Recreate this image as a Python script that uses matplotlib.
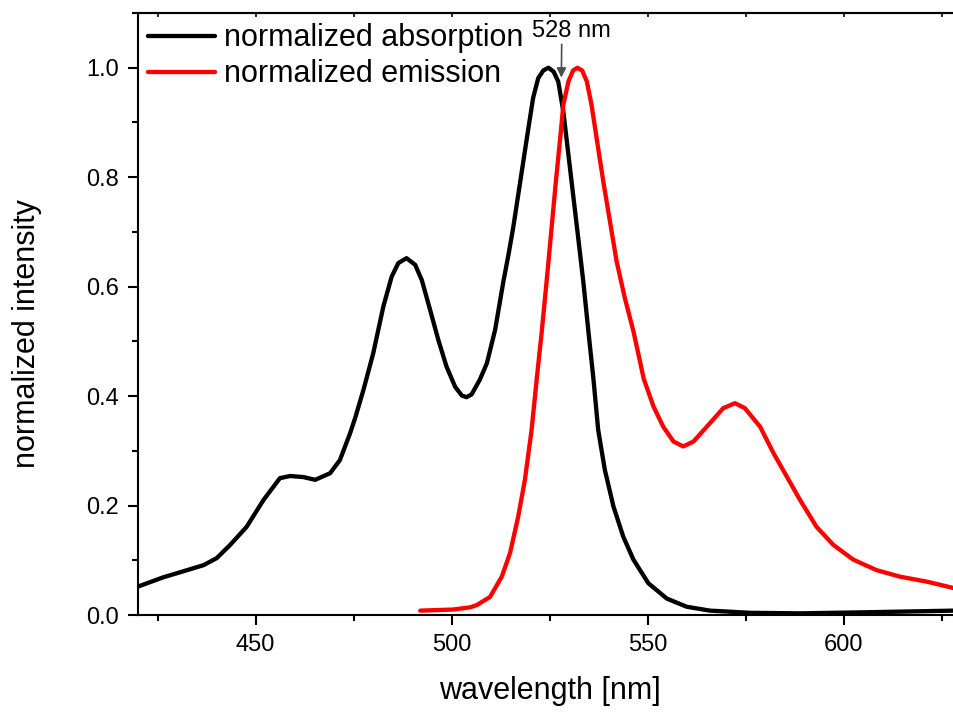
import matplotlib
matplotlib.use('Agg')
import matplotlib.pyplot as plt
from matplotlib.ticker import MultipleLocator, FormatStrFormatter

plt.rcParams['font.family'] = ['Liberation Sans', 'DejaVu Sans']

# absorption spectrum
abs_wl = [420, 426.5, 430.7, 436.7, 440.1, 443.5, 447.7, 452.0, 456.2, 458.8,
          462.2, 465.2, 469.0, 471.5, 474.1, 475.4, 477.5, 480.0, 482.6, 484.7,
          486.4, 488.5, 490.7, 492.4, 494.5, 496.6, 498.7, 500.9, 502.6, 503.8,
          505.1, 507.2, 509.0, 511.1, 513.2, 514.5, 515.7, 517.0, 518.3, 519.6,
          520.8, 522.1, 523.4, 524.7, 526.0, 527.2, 528.5, 529.8, 531.0, 532.3,
          533.6, 534.9, 536.2, 537.4, 539.1, 541.3, 543.8, 546.4, 550.2, 554.9,
          560.0, 565.9, 576.1, 588.9, 605.9, 628.2]
abs_val = [0.052, 0.069, 0.078, 0.091, 0.104, 0.128, 0.161, 0.210, 0.250, 0.254,
           0.252, 0.247, 0.259, 0.283, 0.332, 0.360, 0.411, 0.478, 0.564, 0.618,
           0.643, 0.652, 0.640, 0.612, 0.558, 0.503, 0.454, 0.417, 0.401, 0.398,
           0.403, 0.430, 0.460, 0.521, 0.609, 0.658, 0.707, 0.768, 0.829, 0.890,
           0.945, 0.981, 0.995, 1.000, 0.993, 0.975, 0.920, 0.841, 0.768, 0.689,
           0.609, 0.518, 0.430, 0.338, 0.265, 0.198, 0.143, 0.101, 0.058, 0.030,
           0.015, 0.008, 0.004, 0.003, 0.005, 0.008]

# emission spectrum
em_wl = [492.0, 500.4, 504.7, 506.4, 509.8, 512.8, 514.9, 517.0, 518.7, 520.4,
         521.7, 523.0, 524.4, 525.5, 526.6, 527.7, 528.5, 529.8, 531.0, 532.1,
         533.3, 534.5, 535.7, 537.0, 538.7, 540.4, 542.1, 544.2, 546.4, 548.1,
         549.0, 551.5, 554.0, 556.6, 559.1, 561.7, 565.1, 569.3, 572.3, 574.8,
         578.7, 582.1, 585.5, 588.9, 593.1, 597.4, 602.5, 608.4, 614.4, 621.2,
         628.2]
em_val = [0.008, 0.010, 0.014, 0.018, 0.033, 0.070, 0.113, 0.180, 0.247, 0.338,
          0.430, 0.518, 0.622, 0.707, 0.792, 0.871, 0.932, 0.975, 0.995, 1.000,
          0.995, 0.975, 0.932, 0.871, 0.792, 0.719, 0.646, 0.579, 0.518, 0.462,
          0.432, 0.381, 0.344, 0.317, 0.308, 0.317, 0.344, 0.378, 0.387, 0.378,
          0.344, 0.296, 0.253, 0.210, 0.161, 0.128, 0.101, 0.082, 0.070, 0.061,
          0.049]

fig = plt.figure(figsize=(9.54, 7.13), dpi=100)
ax = fig.add_axes([138 / 954, 1 - 615 / 713, 210 * 3.92 / 954, 602 / 713])

ax.plot(abs_wl, abs_val, color='black', lw=3.1, label='normalized absorption',
        solid_joinstyle='round', solid_capstyle='round')
ax.plot(em_wl, em_val, color='#ff0000', lw=3.1, label='normalized emission',
        solid_joinstyle='round', solid_capstyle='round')

ax.set_xlim(420, 630)
ax.set_ylim(0, 1.1)
ax.xaxis.set_major_locator(MultipleLocator(50))
ax.xaxis.set_minor_locator(MultipleLocator(25))
ax.yaxis.set_major_locator(MultipleLocator(0.2))
ax.yaxis.set_minor_locator(MultipleLocator(0.1))
ax.yaxis.set_major_formatter(FormatStrFormatter('%.1f'))

for s in ax.spines.values():
    s.set_linewidth(1.5)
ax.tick_params(which='both', direction='out', width=1.5, labelsize=17, pad=7)
ax.tick_params(which='major', length=7)
ax.tick_params(which='minor', length=4)

# inward ticks along the top edge
top = ax.secondary_xaxis('top')
top.xaxis.set_major_locator(MultipleLocator(50))
top.xaxis.set_minor_locator(MultipleLocator(25))
top.tick_params(which='both', direction='in', length=3, width=1.2, labeltop=False)
top.spines['top'].set_linewidth(1.5)

ax.set_xlabel('wavelength [nm]', fontsize=22, labelpad=14)
ax.set_ylabel('normalized intensity', fontsize=22)
ax.yaxis.set_label_coords(-0.1166, 0.467)

ax.legend(loc='upper left', bbox_to_anchor=(0.008, 0.988), borderaxespad=0,
          borderpad=0.1, frameon=False, fontsize=22, handlelength=2.2,
          handletextpad=0.3, labelspacing=0.2)

ax.annotate('528 nm', xy=(528, 0.982), xytext=(530.6, 1.057), ha='center',
            va='baseline', fontsize=17,
            arrowprops=dict(arrowstyle='-|>', color='0.3', lw=1.2, relpos=(0.375, 0),
                            shrinkA=0, shrinkB=0, mutation_scale=14))

fig.savefig('out.png', dpi=100)
